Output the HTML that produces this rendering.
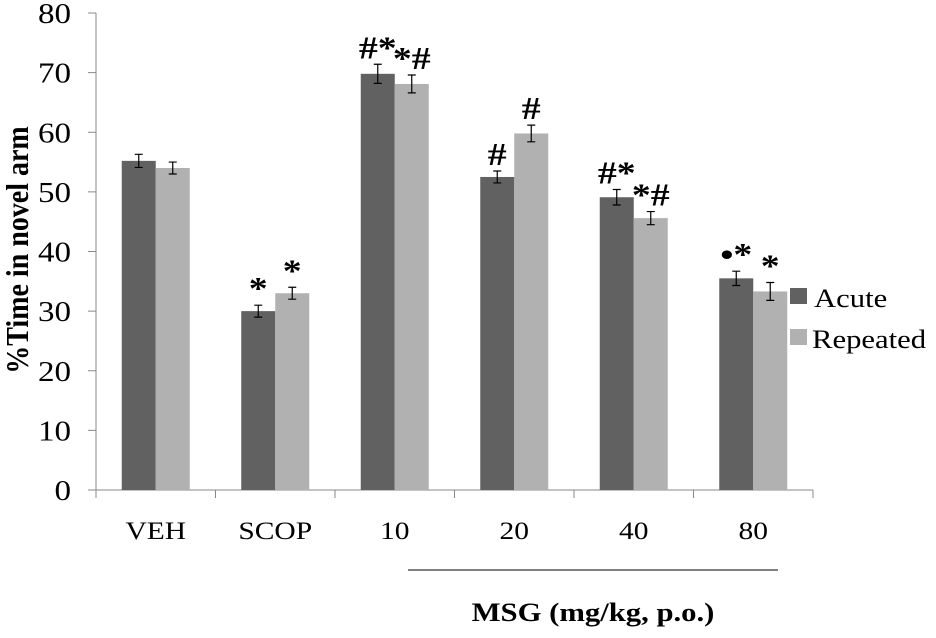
<!DOCTYPE html>
<html><head><meta charset="utf-8"><style>
body{margin:0;background:#fff;}
svg text{font-family:"Liberation Serif",serif;}
</style></head><body>
<svg id="chart" width="936" height="633" viewBox="0 0 936 633"></svg>
<script>
const categories=["VEH","SCOP","10","20","40","80"];
const acute=[55.2,30.0,69.8,52.5,49.1,35.5];
const repeated=[54.0,33.0,68.1,59.8,45.6,33.3];
const acuteErr=[1.1,1.0,1.6,1.0,1.3,1.2];
const repeatedErr=[1.0,1.0,1.5,1.4,1.1,1.5];
const acuteMarks=["","*","#*","#","#*","•*"];
const repeatedMarks=["","*","*#","#","*#","*"];
const yTicks=[0,10,20,30,40,50,60,70,80];

const NS="http://www.w3.org/2000/svg";
const svg=document.getElementById('chart');
const x0=96,step=119.5,y0=490,yTop=13,ymax=80;
const y=v=>y0-(v/ymax)*(y0-yTop);
const bw=34;
const SX=1.18;
function el(tag,attrs,parent){const e=document.createElementNS(NS,tag);for(const k in attrs)e.setAttribute(k,attrs[k]);(parent||svg).appendChild(e);return e;}
function txt(x,yy,anchor,size,weight){return el('text',{x:0,y:0,'text-anchor':anchor,'font-size':size,'font-weight':weight||'normal',transform:`translate(${x},${yy}) scale(${SX},1)`});}

const ya=el('line',{x1:x0,y1:yTop,x2:x0,y2:y0,stroke:'#888','stroke-width':1});


yTicks.forEach(t=>{
  const tk=el('line',{x1:x0-8,y1:y(t),x2:x0,y2:y(t),stroke:'#888'});
  
  
  const tx=txt(71,y(t)+10,'end',28);
  tx.textContent=t;
  
  
});
const xa=el('line',{x1:x0,y1:y0,x2:x0+step*categories.length,y2:y0,stroke:'#888'});


for(let i=0;i<=categories.length;i++){
  const tk=el('line',{x1:x0+step*i,y1:y0,x2:x0+step*i,y2:y0+8,stroke:'#888'});
  
  
}
categories.forEach((c,i)=>{
  const cx=x0+step*i+step/2;
  const tx=txt(cx,539,'middle',25);
  tx.textContent=c;
  
  
  [[acute,acuteErr,acuteMarks,'#616161',cx-bw],[repeated,repeatedErr,repeatedMarks,'#b1b1b1',cx]].forEach(([vals,errs,marks,col,bx],s)=>{
    const v=vals[i];
    const r=el('rect',{x:bx,y:y(v),width:bw,height:y0-y(v),fill:col});
    
    
    const ex=bx+bw/2,e=errs[i];
    const g=el('path',{d:`M${ex},${y(v+e)}V${y(v-e)}M${ex-4},${y(v+e)}H${ex+4}M${ex-4},${y(v-e)}H${ex+4}`,stroke:'#000','stroke-width':1.2,fill:'none'});
    
    
    if(marks[i]){
      const m=txt(ex,y(v+e)-6,'middle',32,'bold');
      m.textContent=marks[i];
      
      
    }
  });
});
const yt=el('text',{x:0,y:0,'text-anchor':'middle','font-size':28,'font-weight':'bold',transform:'translate(28,250) rotate(-90) scale(1,1.15)'});
yt.textContent='%Time in novel arm';


const bl=el('line',{x1:408,y1:570,x2:778,y2:570,stroke:'#000','stroke-width':1});


const xt=txt(593,621,'middle',26,'bold');
xt.textContent='MSG (mg/kg, p.o.)';


const l1=el('rect',{x:790,y:288,width:17,height:16,fill:'#616161'});


const t1=txt(814,307,'start',26);
t1.textContent='Acute';


const l2=el('rect',{x:790,y:329,width:17,height:16,fill:'#b1b1b1'});


const t2=txt(812,348,'start',26);
t2.textContent='Repeated';


</script>
</body></html>
